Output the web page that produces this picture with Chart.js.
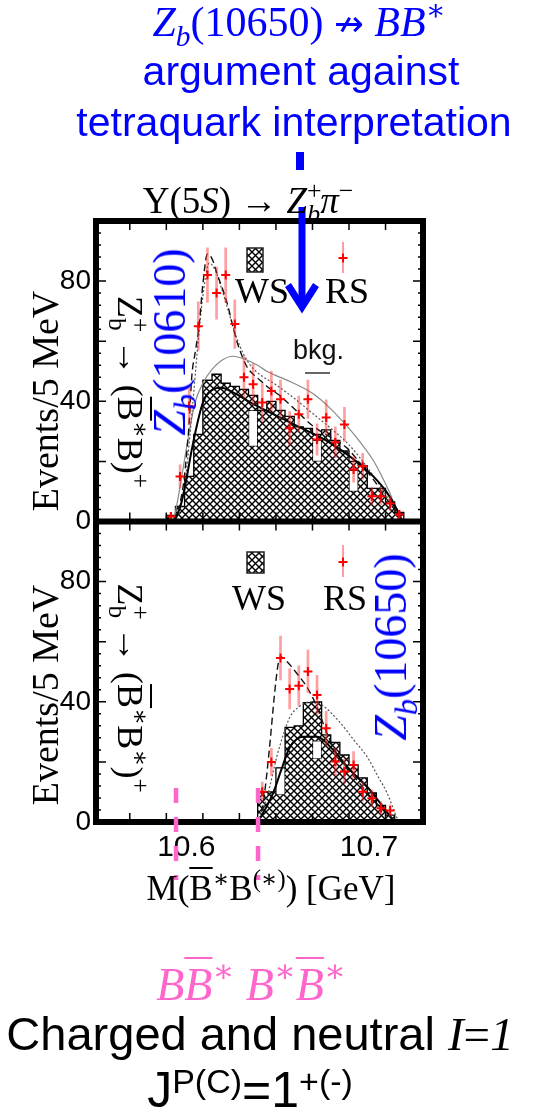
<!DOCTYPE html>
<html>
<head>
<meta charset="utf-8">
<title>Zb -> B(*)B* spectra</title>
<script src="https://cdn.jsdelivr.net/npm/chart.js@4.4.1/dist/chart.umd.min.js"></script>
<style>
html, body { margin: 0; padding: 0; background: #fff; }
#page { position: relative; width: 538px; height: 1117px; overflow: hidden; }
#c { position: absolute; left: 0; top: 0; }
.t { position: absolute; white-space: nowrap; line-height: 1; }
.serif { font-family: 'Liberation Serif', 'DejaVu Serif', serif; }
.sans { font-family: 'Liberation Sans', Arial, sans-serif; }
.arr { font-family: 'DejaVu Sans', sans-serif; font-size: 0.85em; }
.blue { color: #0000ff; }
.pink { color: #ff66cc; }
.mid { transform: translateX(-50%); }
.ccw { transform: translate(-50%, -50%) rotate(-90deg); }
.cw { transform: translate(-50%, -50%) rotate(90deg); }
sup, sub { font-size: 0.7em; line-height: 0; position: relative; vertical-align: baseline; }
sup { top: -0.55em; }
sub { top: 0.35em; }
.bk { margin-left: -0.56em; }
.ov { text-decoration: overline; text-decoration-thickness: 0.05em; }
.jp sup { font-size: 0.68em; top: -0.42em; }
</style>
</head>
<body>
<div id="page">
  <canvas id="c" width="538" height="1117"></canvas>

  <div class="t serif blue mid" style="left:299px; top:1px; font-size:42px"><i>Z</i><sub><i>b</i></sub>(10650) <span class="arr">↛</span> <i>B</i><i class="ov">B</i><sup>∗</sup></div>
  <div class="t sans blue mid" style="left:301px; top:51px; font-size:41px">argument against</div>
  <div class="t sans blue mid" style="left:294px; top:102px; font-size:41px">tetraquark interpretation</div>
  <div class="t serif mid" style="left:248px; top:182px; font-size:37px">Υ(5<i>S</i>) → <i>Z</i><sup>+</sup><sub class="bk"><i>b</i></sub><i>π</i><sup>−</sup></div>

  <div class="t serif" style="left:235px; top:273px; font-size:36px">WS</div>
  <div class="t serif" style="left:325px; top:273px; font-size:36px">RS</div>
  <div class="t sans" style="left:293px; top:337px; font-size:27px; color:#111">bkg.</div>
  <div class="t serif" style="left:232px; top:580px; font-size:36px">WS</div>
  <div class="t serif" style="left:323px; top:580px; font-size:36px">RS</div>

  <div class="t serif ccw" style="left:45px; top:401px; font-size:38px">Events/5 MeV</div>
  <div class="t serif ccw" style="left:45px; top:695px; font-size:38px">Events/5 MeV</div>
  <div class="t serif cw" style="left:130px; top:392px; font-size:36px">Z<sup>+</sup><sub class="bk">b</sub> → (<span class="ov">B</span><sup>∗</sup>B)<sup>+</sup></div>
  <div class="t serif cw" style="left:130px; top:688px; font-size:36px">Z<sup>+</sup><sub class="bk">b</sub> → (<span class="ov">B</span><sup>∗</sup>B<sup>∗</sup>)<sup>+</sup></div>

  <div class="t serif blue ccw" style="left:170px; top:342px; font-size:46px"><i>Z</i><sub><i>b</i></sub>(10610)</div>
  <div class="t serif blue ccw" style="left:391px; top:647px; font-size:46px"><i>Z</i><sub><i>b</i></sub>(10650)</div>

  <div class="t serif mid" style="left:271px; top:871px; font-size:35px">M(<span class="ov">B</span><sup>∗</sup>B<sup>(∗)</sup>) [GeV]</div>
  <div class="t serif pink mid" style="left:251px; top:962px; font-size:46px"><i>B</i><i class="ov">B</i><sup>∗</sup> <i>B</i><sup>∗</sup><i class="ov">B</i><sup>∗</sup></div>
  <div class="t sans mid" style="left:260px; top:1010px; font-size:47px">Charged and neutral <i class="serif">I</i><span class="serif">=</span><i class="serif">1</i></div>
  <div class="t sans mid jp" style="left:250px; top:1065px; font-size:50px">J<sup>P(C)</sup>=1<sup>+(-)</sup></div>
</div>

<script>
// ---------------- data ----------------
// 5 MeV bin centres, M(B B*) panel (GeV)
const binTop = [10.6025, 10.6075, 10.6125, 10.6175, 10.6225, 10.6275, 10.6325, 10.6375, 10.6425,
  10.6475, 10.6525, 10.6575, 10.6625, 10.6675, 10.6725, 10.6775, 10.6825, 10.6875, 10.6925,
  10.6975, 10.7025, 10.7075, 10.7125, 10.7175, 10.7225, 10.7275];
const wsTop = [2, 5, 15, 29, 47, 49, 46, 45, 44, 42, 37, 40, 37, 35, 31.5, 31, 29, 30.5, 27,
  23.5, 20, 18.5, 11, 11, 6.5, 3];
const rsTop = [1.7, 15, 38.4, 65, 82, 76, 82, 65.7, 48, 45.7, 39.6, 43.4, 40.7, 31, 35.7, 40.7,
  27.3, 34.6, 26.4, 32.3, 17.3, 18.4, 8.4, 8.4, 6, 2.3];
const rsTopErr = [1.3, 3.9, 6.2, 8.1, 9.1, 8.7, 9.1, 8.1, 6.9, 6.8, 6.3, 6.6, 6.4, 5.6, 6.0, 6.4,
  5.2, 5.9, 5.1, 5.7, 4.2, 4.3, 2.9, 2.9, 2.4, 1.5];
// blank stretches inside the hatched histogram
const gapTopBin = [10.6475, 10.6825, 10.7025];
const gapTopLo = [25, 20, 10];
const gapTopHi = [37, 27, 17];

// M(B* B*) panel
const binBot = [10.6525, 10.6575, 10.6625, 10.6675, 10.6725, 10.6775, 10.6825, 10.6875, 10.6925,
  10.6975, 10.7025, 10.7075, 10.7125, 10.7175, 10.7225];
const wsBot = [10, 10, 18, 31.5, 32, 39.7, 40, 29, 26.5, 22.3, 19, 14.7, 9.7, 5.5, 2.3];
const rsBot = [10.1, 20, 54.6, 44.3, 45.3, 50.1, 42.3, 31.2, 20.1, 16.8, 19, 10.1, 7.9, 4.6, 3.8];
const rsBotErr = [3.2, 4.5, 7.3, 6.7, 6.7, 7.1, 6.5, 5.6, 4.5, 4.1, 4.4, 3.2, 2.8, 2.1, 1.9];
const gapBotBin = [10.6625, 10.6825];
const gapBotLo = [9, 21];
const gapBotHi = [18, 27];

// fit curves, top panel
const fitTopX = [10.6040, 10.6060, 10.6075, 10.6095, 10.6112, 10.6125, 10.6139, 10.6160, 10.6179,
  10.6200, 10.6225, 10.6250, 10.6280, 10.6310, 10.6336, 10.6360, 10.6386, 10.6415, 10.6441,
  10.6475, 10.6513, 10.6560, 10.6623, 10.6700, 10.6804, 10.6900, 10.6988, 10.7060, 10.7133,
  10.7200, 10.7262, 10.7300];
const fitTopY = [0, 2, 6, 13, 23, 33, 48, 57, 65, 79, 89, 87.5, 82, 77, 72, 66, 60, 55, 51.5,
  49, 47, 44.5, 41.8, 37.5, 31.7, 28, 24.5, 19.5, 14, 8, 3, 0];
const altTopX = [10.6045, 10.6080, 10.6110, 10.6140, 10.6170, 10.6200, 10.6235, 10.6265, 10.6300,
  10.6340, 10.6380, 10.6420, 10.6460, 10.6500, 10.6600, 10.6700, 10.6800, 10.6900, 10.7000,
  10.7100, 10.7200, 10.7280];
const altTopY = [0, 5, 17, 36, 57, 75, 86, 84, 78, 70, 62, 56, 52, 49.5, 45.5, 41, 36, 31,
  25.5, 18, 9, 0.5];
const bkgTopX = [10.6040, 10.6065, 10.6090, 10.6120, 10.6157, 10.6200, 10.6249, 10.6300, 10.6365,
  10.6430, 10.6500, 10.6550, 10.6680, 10.6804, 10.6900, 10.6988, 10.7060, 10.7129, 10.7180,
  10.7222, 10.7255, 10.7285];
const bkgTopY = [0, 8, 17, 28, 39.5, 46, 50.5, 53.5, 55, 54, 52, 50, 46.5, 42.5, 37.5, 31.8,
  26.5, 20.7, 15, 9.7, 4.5, 0];
const wsFitTopX = [10.6040, 10.6075, 10.6100, 10.6146, 10.6201, 10.6256, 10.6300, 10.6365,
  10.6450, 10.6550, 10.6715, 10.6879, 10.7025, 10.7133, 10.7208, 10.7262, 10.7290];
const wsFitTopY = [0, 4.7, 11, 26, 39.7, 44, 44.5, 43, 40, 36.8, 31.8, 26.8, 20.7, 15, 9.6, 4, 0];

// fit curves, bottom panel
const fitBotX = [10.6500, 10.6513, 10.6530, 10.6550, 10.6570, 10.6585, 10.6600, 10.6612, 10.6625,
  10.6650, 10.6677, 10.6720, 10.6769, 10.6824, 10.6879, 10.6952, 10.7043, 10.7133, 10.7226,
  10.7250];
const fitBotY = [0, 1, 6, 16, 28, 38, 47, 52.5, 55, 54, 52.3, 49, 45, 38.4, 29.6, 20.7, 14,
  7.3, 1.8, 0];
const bkgBotX = [10.6500, 10.6550, 10.6605, 10.6640, 10.6677, 10.6730, 10.6787, 10.6850, 10.6952,
  10.7030, 10.7098, 10.7160, 10.7208, 10.7262, 10.7275];
const bkgBotY = [0, 8, 21.8, 29, 35, 38.5, 40, 39, 33, 27, 21.8, 15, 9.7, 1.5, 0];
const wsFitBotX = [10.6500, 10.6530, 10.6585, 10.6630, 10.6677, 10.6750, 10.6824, 10.6913,
  10.7006, 10.7098, 10.7171, 10.7242, 10.7255];
const wsFitBotY = [0, 3, 9.7, 17.5, 25, 28.4, 28.4, 24, 17.3, 11.8, 6.3, 0.7, 0];

// axes
const xTickVals = [10.58, 10.60, 10.62, 10.64, 10.66, 10.68, 10.70, 10.72, 10.74];
const xTickLabels = ['', '10.6', '', '', '', '', '10.7', '', ''];
const yTickVals = [0, 40, 80];
const thresholds = [10.6053, 10.6502];   // B B* and B* B* thresholds (pink markers)

// ---------------- helpers ----------------
const HALF = 0.0025;
function histo(centres, heights) {
  const pts = [{x: centres[0] - HALF, y: 0}];
  centres.forEach((c, i) => pts.push({x: c - HALF, y: heights[i]}));
  pts.push({x: centres[centres.length - 1] + HALF, y: 0});
  return pts;
}
const curve = (xs, ys) => xs.map((x, i) => ({x: x, y: ys[i]}));
const bars = (xs, lo, hi) => xs.map((x, i) => ({x: x, y: [lo[i], hi[i]]}));
const errs = (xs, v, e) => xs.map((x, i) => ({x: x, y: [v[i] - e[i], v[i] + e[i]]}));

function hatch() {
  const c = document.createElement('canvas');
  c.width = 7; c.height = 7;
  const g = c.getContext('2d');
  g.fillStyle = '#fff'; g.fillRect(0, 0, 7, 7);
  g.strokeStyle = '#000'; g.lineWidth = 1.4;
  g.beginPath();
  g.moveTo(0, 0); g.lineTo(7, 7);
  g.moveTo(7, 0); g.lineTo(0, 7);
  g.stroke();
  return g.createPattern(c, 'repeat');
}
const pat = hatch();

function panelSets(ax, bins, ws, rs, err, gx, glo, ghi, lines) {
  const sets = [
    {type: 'line', yAxisID: ax, data: curve(bins, rs), showLine: false, pointStyle: 'cross',
     pointRadius: 4.5, pointBorderColor: '#ff0000', pointBorderWidth: 2, order: 1},
    {type: 'bar', yAxisID: ax, data: errs(bins, rs, err), barThickness: 2, grouped: false,
     backgroundColor: 'rgba(255,40,40,0.45)', borderWidth: 0, order: 2},
    {type: 'bar', yAxisID: ax, data: bars(gx, glo, ghi), grouped: false, barPercentage: 1,
     categoryPercentage: 1, backgroundColor: '#fff', borderColor: 'rgba(0,0,0,0.7)',
     borderWidth: 1, borderSkipped: false, order: 9},
    {type: 'line', yAxisID: ax, data: histo(bins, ws), stepped: true, fill: 'origin',
     backgroundColor: pat, borderColor: '#000', borderWidth: 1.3, pointRadius: 0, order: 10}
  ];
  lines.forEach(l => sets.push(Object.assign({type: 'line', yAxisID: ax, pointRadius: 0,
    fill: false, cubicInterpolationMode: 'monotone'}, l)));
  return sets;
}

const datasets = [].concat(
  panelSets('yTop', binTop, wsTop, rsTop, rsTopErr, gapTopBin, gapTopLo, gapTopHi, [
    {data: curve(fitTopX, fitTopY), borderColor: '#111', borderWidth: 1.4, borderDash: [7, 4], order: 4},
    {data: curve(altTopX, altTopY), borderColor: '#555', borderWidth: 1.2, borderDash: [2, 2], order: 6},
    {data: curve(bkgTopX, bkgTopY), borderColor: '#8a8a8a', borderWidth: 1.2, order: 6},
    {data: curve(wsFitTopX, wsFitTopY), borderColor: '#000', borderWidth: 2, order: 5}
  ]),
  panelSets('yBot', binBot, wsBot, rsBot, rsBotErr, gapBotBin, gapBotLo, gapBotHi, [
    {data: curve(fitBotX, fitBotY), borderColor: '#111', borderWidth: 1.4, borderDash: [7, 4], order: 4},
    {data: curve(bkgBotX, bkgBotY), borderColor: '#555', borderWidth: 1.2, borderDash: [2, 2], order: 6},
    {data: curve(wsFitBotX, wsFitBotY), borderColor: '#000', borderWidth: 2, order: 5}
  ])
);

// frame, inward ticks, legend keys and hand-drawn annotations
const decor = {
  id: 'decor',
  afterDraw(chart) {
    const {ctx, chartArea: a, scales} = chart;
    const x = scales.x;
    ctx.save();
    ctx.strokeStyle = '#000';
    ctx.lineWidth = 1.5;
    ctx.beginPath();
    [scales.yTop, scales.yBot].forEach(ys => {
      const top = ys.getPixelForValue(100), bot = ys.getPixelForValue(0);
      xTickVals.forEach(v => {
        const px = x.getPixelForValue(v);
        ctx.moveTo(px, bot); ctx.lineTo(px, bot - 9);
        ctx.moveTo(px, top); ctx.lineTo(px, top + 9);
      });
      for (let v = 4; v < 100; v += 4) {
        const py = ys.getPixelForValue(v);
        const len = v % 20 === 0 ? 10 : 5;
        ctx.moveTo(a.left, py); ctx.lineTo(a.left + len, py);
        ctx.moveTo(a.right, py); ctx.lineTo(a.right - len, py);
      }
    });
    ctx.stroke();

    ctx.lineWidth = 6;
    ctx.strokeRect(a.left, a.top, a.right - a.left, a.bottom - a.top);
    const mid = scales.yTop.getPixelForValue(0);
    ctx.beginPath(); ctx.moveTo(a.left, mid); ctx.lineTo(a.right, mid); ctx.stroke();

    // legend keys
    [[247, 248, 16, 24], [247, 552, 17, 21]].forEach(r => {
      ctx.fillStyle = pat; ctx.fillRect(r[0], r[1], r[2], r[3]);
      ctx.lineWidth = 1.5; ctx.strokeStyle = '#222'; ctx.strokeRect(r[0], r[1], r[2], r[3]);
    });
    [[343, 258, 242, 273], [343, 562, 545, 577]].forEach(p => {
      ctx.strokeStyle = 'rgba(255,40,40,0.45)'; ctx.lineWidth = 2;
      ctx.beginPath(); ctx.moveTo(p[0], p[2]); ctx.lineTo(p[0], p[3]); ctx.stroke();
      ctx.strokeStyle = '#ff0000';
      ctx.beginPath(); ctx.moveTo(p[0] - 4.5, p[1]); ctx.lineTo(p[0] + 4.5, p[1]);
      ctx.moveTo(p[0], p[1] - 4.5); ctx.lineTo(p[0], p[1] + 4.5); ctx.stroke();
    });
    ctx.strokeStyle = '#666'; ctx.lineWidth = 2;
    ctx.beginPath(); ctx.moveTo(305, 373); ctx.lineTo(330, 373); ctx.stroke();

    // threshold markers
    ctx.strokeStyle = '#ff66cc'; ctx.lineWidth = 4.5; ctx.setLineDash([15, 14]);
    thresholds.forEach(t => {
      const px = x.getPixelForValue(t);
      ctx.beginPath(); ctx.moveTo(px, 788); ctx.lineTo(px, 880); ctx.stroke();
    });
    ctx.setLineDash([]);

    // blue arrow
    ctx.strokeStyle = '#0000ff';
    ctx.lineWidth = 8;
    ctx.beginPath(); ctx.moveTo(300, 152); ctx.lineTo(300, 170); ctx.stroke();
    ctx.lineWidth = 7;
    ctx.beginPath(); ctx.moveTo(302, 207); ctx.lineTo(302, 302); ctx.stroke();
    ctx.lineJoin = 'miter';
    ctx.beginPath(); ctx.moveTo(288, 285); ctx.lineTo(302, 307); ctx.lineTo(316, 285); ctx.stroke();
    ctx.restore();
  }
};

const yAxis = (w) => ({
  type: 'linear', position: 'left', stack: 'panels', stackWeight: 1, weight: w,
  min: 0, max: 100,
  afterBuildTicks: s => { s.ticks = yTickVals.map(v => ({value: v})); },
  afterFit: s => { s.width = 60; },
  grid: {display: false, drawTicks: false}, border: {display: false},
  ticks: {color: '#000', padding: 5, font: {family: 'Liberation Sans', size: 28}}
});

new Chart(document.getElementById('c'), {
  type: 'line',
  data: {datasets: datasets},
  options: {
    responsive: false,
    animation: false,
    events: [],
    layout: {padding: {left: 36, right: 115, top: 221, bottom: 245}},
    plugins: {legend: {display: false}, tooltip: {enabled: false}},
    scales: {
      x: {
        type: 'linear', min: 10.5615, max: 10.7405, offset: false,
        afterBuildTicks: s => { s.ticks = xTickVals.map(v => ({value: v})); },
        afterFit: s => { s.height = 50; },
        grid: {display: false, drawTicks: false}, border: {display: false},
        ticks: {
          autoSkip: false, maxRotation: 0, labelOffset: 20, padding: 8, color: '#000',
          font: {family: 'Liberation Sans', size: 30},
          callback: (v, i) => xTickLabels[i]
        }
      },
      yTop: yAxis(1),
      yBot: yAxis(0)
    }
  },
  plugins: [decor]
});
</script>
</body>
</html>
